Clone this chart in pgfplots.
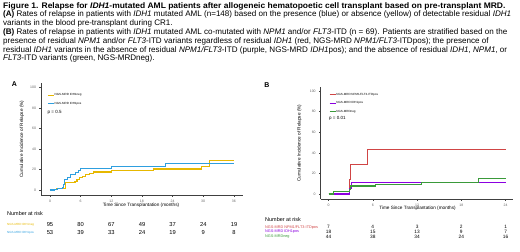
\documentclass[border=0pt]{standalone}
\usepackage{fontspec}
\setmainfont{Liberation Sans}
\usepackage{pgfplots}
\pgfplotsset{compat=1.18}
\definecolor{cyel}{HTML}{E7B800}
\definecolor{cblu}{HTML}{2E9FDF}
\definecolor{cred}{HTML}{D04545}
\definecolor{cpur}{HTML}{8B00E0}
\definecolor{cgrn}{HTML}{3A9A3A}
\newcommand{\fs}[1]{\fontsize{#1}{#1}\selectfont}
\pgfplotsset{km/.style={
 scale only axis, axis x line=bottom, axis y line=left,
 axis line style={black!75, line width=0.8bp, -},
 tick style={black!75, line width=0.5bp},
 tick align=outside, major tick length=1.5bp,
 ytick={0,20,...,100},
 tick label style={font=\fs{3.5}, text=black!60},
 /pgf/number format/assume math mode=true,
 legend cell align=left,
 legend style={draw=none, fill=none, inner sep=0pt, font=\fs{3}, row sep=4.2bp, nodes={inner sep=0.3bp}},
 legend image code/.code={\draw[#1, line width=1.1bp] (0bp,0bp) -- (6bp,0bp);},
 every axis plot/.append style={const plot, line width=1.1bp, mark=none},
 clip=false,
}}
\begin{document}
\begin{tikzpicture}
\useasboundingbox (0bp,0bp) rectangle (520bp,-252bp);
% caption
\node[anchor=north west, align=left, inner sep=0pt, font=\fontsize{8.1}{8.83}\selectfont] at (3bp,-2bp) {%
\scalebox{1.05}[1]{\textbf{Figure 1. Relapse for \textit{IDH1}-mutated AML patients after allogeneic hematopoetic cell transplant based on pre-transplant MRD.}}\\
\textbf{(A)} Rates of relapse in patients with \textit{IDH1} mutated AML (n=148) based on the presence (blue) or absence (yellow) of detectable residual \textit{IDH1}\\
variants in the blood pre-transplant during CR1.\\
\textbf{(B)} Rates of relapse in patients with \textit{IDH1} mutated AML co-mutated with \textit{NPM1} and/or \textit{FLT3}-ITD (n = 69). Patients are stratified based on the\\
presence of residual \textit{NPM1} and/or \textit{FLT3}-ITD variants regardless of residual \textit{IDH1} (red, NGS-MRD \textit{NPM1/FLT3}-ITDpos); the presence of\\
residual \textit{IDH1} variants in the absence of residual \textit{NPM1/FLT3}-ITD (purple, NGS-MRD \textit{IDH1}pos); and the absence of residual \textit{IDH1}, \textit{NPM1}, or\\
\textit{FLT3}-ITD variants (green, NGS-MRDneg).};

% ---------- Panel A ----------
\begin{axis}[km, at={(41bp,-195bp)}, anchor=south west, width=202bp, height=112bp,
  xmin=-1.76, xmax=37.8, ymin=-4.9, ymax=104.2, xtick={0,6,...,36},
  legend style={at={(0.03,0.91)}, anchor=north west}]
\addplot[cyel] coordinates {(0,0)(0.6,0.5)(1.2,1.0)(2.0,1.5)(3.0,7.0)(4.9,8.5)(5.3,10)(5.8,12)(6.3,13.5)(7.0,15)(7.8,16)(8.5,17.5)(12.0,18.8)(20.2,20.4)(29.6,22.7)(31.2,28.3)(36,28.3)};
\addlegendentry{NGS-MRD IDH1neg}
\addplot[cblu] coordinates {(0,0)(0.8,0.7)(1.5,1.5)(2.4,2.0)(2.6,5.5)(2.9,10)(3.5,12.5)(4.1,15)(5.0,17)(5.6,19)(6.0,21)(12.0,23)(22.6,26)(36,26)};
\addlegendentry{NGS-MRD IDH1pos}
\end{axis}
\node[anchor=west, inner sep=0pt, font=\fs{4.5}] at (47.5bp,-112.5bp) {p = 0.5};
\node[font=\bfseries\fs{7}] at (14.5bp,-84bp) {A};
\node[rotate=90, font=\fs{4.7}] at (22bp,-139bp) {Cumulative Incidence of Relapse (\%)};
\node[font=\fs{4.7}] at (141bp,-205.5bp) {Time Since Transplantation (months)};
\node[anchor=west, inner sep=0pt, font=\fs{5.5}] at (7bp,-214bp) {Number at risk};
\node[anchor=west, inner sep=0pt, font=\fs{3}, text=cyel] at (7bp,-224.3bp) {NGS-MRD IDH1neg};
\node[anchor=west, inner sep=0pt, font=\fs{3}, text=cblu] at (7bp,-232.3bp) {NGS-MRD IDH1pos};
\foreach \x/\n in {50/95, 80.7/80, 111.3/67, 142/49, 172.6/37, 203.3/24, 234/19}
  \node[font=\fs{5.8}] at (\x bp,-224.3bp) {\n};
\foreach \x/\n in {50/53, 80.7/39, 111.3/33, 142/24, 172.6/19, 203.3/9, 234/8}
  \node[font=\fs{5.8}] at (\x bp,-232.3bp) {\n};

% ---------- Panel B ----------
\begin{axis}[km, at={(320.7bp,-199.3bp)}, anchor=south west, width=192.3bp, height=112.3bp,
  xmin=-1.06, xmax=25.0, ymin=-5.1, ymax=103.9, xtick={0,6,...,24},
  legend style={at={(0.042,0.95)}, anchor=north west}]
\addplot[cred] coordinates {(0,0)(2.8,14.3)(3.0,28.6)(5.3,42.9)(24,42.9)};
\addlegendentry{NGS-MRD NPM1/FLT3-ITDpos}
\addplot[cpur] coordinates {(0,0)(2.9,5.6)(3.1,11.1)(24,11.1)};
\addlegendentry{NGS-MRD IDH1pos}
\addplot[cgrn] coordinates {(0,0)(0.65,2.3)(2.8,4.5)(3.0,7.8)(6.4,9.4)(12.6,11.4)(20.3,15.2)(24,15.2)};
\addlegendentry{NGS-MRDneg}
\end{axis}
\node[anchor=west, inner sep=0pt, font=\fs{4.5}] at (329bp,-118.7bp) {p = 0.01};
\node[font=\bfseries\fs{7}] at (267bp,-85bp) {B};
\node[rotate=90, font=\fs{4.7}] at (299.5bp,-143bp) {Cumulative Incidence of Relapse (\%)};
\node[font=\fs{4.7}] at (417.5bp,-208.5bp) {Time Since Transplantation (months)};
\node[anchor=west, inner sep=0pt, font=\fs{5.5}] at (265bp,-219.3bp) {Number at risk};
\node[anchor=west, inner sep=0pt, font=\fs{3.8}, text=cred] at (265bp,-227.3bp) {NGS-MRD NPM1/FLT3-ITDpos};
\node[anchor=west, inner sep=0pt, font=\fs{3.8}, text=cpur] at (265bp,-232bp) {NGS-MRD IDH1pos};
\node[anchor=west, inner sep=0pt, font=\fs{3.8}, text=cgrn] at (265bp,-236.7bp) {NGS-MRDneg};
\foreach \x/\n in {328.5/7, 372.8/4, 417.1/3, 461.3/2, 505.6/1}
  \node[font=\fs{4.8}] at (\x bp,-227.3bp) {\n};
\foreach \x/\n in {328.5/18, 372.8/15, 417.1/13, 461.3/9, 505.6/7}
  \node[font=\fs{4.8}] at (\x bp,-232bp) {\n};
\foreach \x/\n in {328.5/44, 372.8/38, 417.1/34, 461.3/24, 505.6/16}
  \node[font=\fs{4.8}] at (\x bp,-236.7bp) {\n};
\end{tikzpicture}
\end{document}
